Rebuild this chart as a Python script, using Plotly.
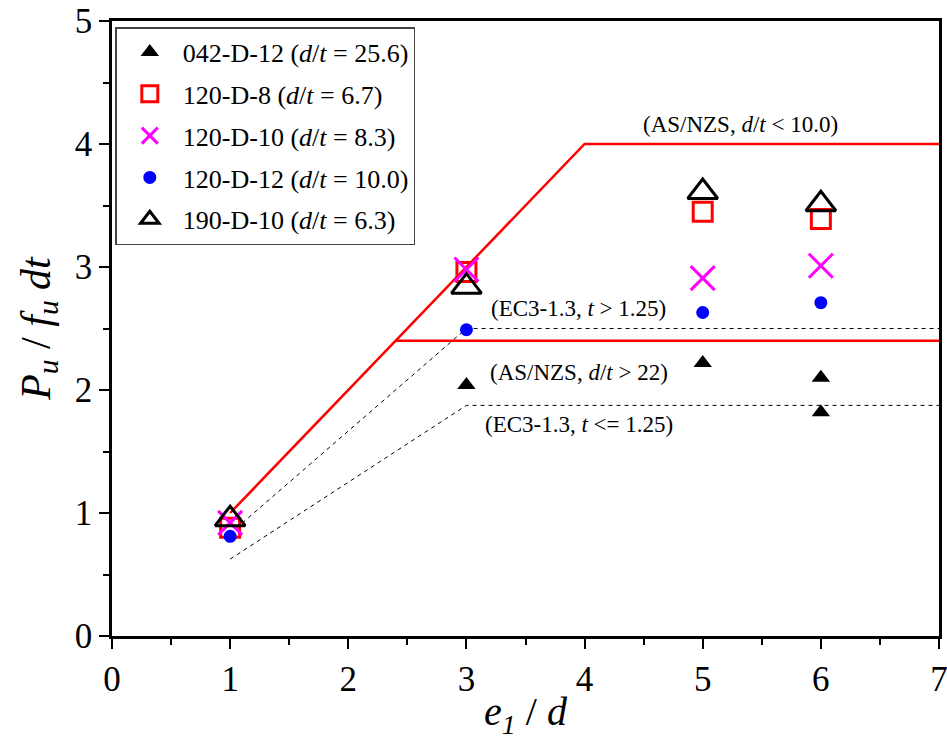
import plotly.graph_objects as go

# Data
x_042 = [3, 5, 6, 6]
y_042 = [2.04, 2.22, 2.10, 1.82]
x_120_8 = [1, 3, 5, 6]
y_120_8 = [0.88, 2.96, 3.45, 3.39]
x_120_10 = [1, 3, 5, 6]
y_120_10 = [0.92, 2.98, 2.91, 3.01]
x_120_12 = [1, 3, 5, 6]
y_120_12 = [0.81, 2.49, 2.63, 2.71]
x_190_10 = [1, 3, 5, 6]
y_190_10 = [0.95, 2.84, 3.61, 3.51]

# design curves
asnzs_lo_x = [1, 4, 7]
asnzs_lo_y = [1.0, 4.0, 4.0]
asnzs_hi_x = [2.4, 7]
asnzs_hi_y = [2.4, 2.4]
ec3_a_x = [1, 3, 7]
ec3_a_y = [0.833, 2.5, 2.5]
ec3_b_x = [1, 3, 7]
ec3_b_y = [0.625, 1.875, 1.875]

FONT = "Liberation Serif"

fig = go.Figure()

fig.add_trace(go.Scatter(x=ec3_a_x, y=ec3_a_y, mode="lines", showlegend=False,
                         line=dict(color="black", width=1, dash="4px,4px")))
fig.add_trace(go.Scatter(x=ec3_b_x, y=ec3_b_y, mode="lines", showlegend=False,
                         line=dict(color="black", width=1, dash="4px,4px")))
fig.add_trace(go.Scatter(x=asnzs_lo_x, y=asnzs_lo_y, mode="lines", showlegend=False,
                         line=dict(color="#ff0000", width=2.5)))
fig.add_trace(go.Scatter(x=asnzs_hi_x, y=asnzs_hi_y, mode="lines", showlegend=False,
                         line=dict(color="#ff0000", width=2.5)))

fig.add_trace(go.Scatter(x=x_042, y=y_042, mode="markers", name="042-D-12 (<i>d</i>/<i>t</i> = 25.6)",
                         legendgroup="a",
                         marker=dict(symbol="triangle-up", size=16, color="black")))
fig.add_trace(go.Scatter(x=x_120_8, y=y_120_8, mode="markers", name="120-D-8 (<i>d</i>/<i>t</i> = 6.7)",
                         legendgroup="b",
                         marker=dict(symbol="square-open", size=19, color="#ff0000",
                                     line=dict(width=3, color="#ff0000"))))
fig.add_trace(go.Scatter(x=x_120_10, y=y_120_10, mode="markers", name="120-D-10 (<i>d</i>/<i>t</i> = 8.3)",
                         legendgroup="c",
                         marker=dict(symbol="x-thin-open", size=24, color="#ff00ff",
                                     line=dict(width=3, color="#ff00ff"))))
fig.add_trace(go.Scatter(x=x_120_12, y=y_120_12, mode="markers", name="120-D-12 (<i>d</i>/<i>t</i> = 10.0)",
                         legendgroup="d",
                         marker=dict(symbol="circle", size=13, color="#0000ff")))
fig.add_trace(go.Scatter(x=x_190_10, y=y_190_10, mode="markers", name="190-D-10 (<i>d</i>/<i>t</i> = 6.3)",
                         legendgroup="e",
                         marker=dict(symbol="triangle-up-open", size=26, color="black",
                                     line=dict(width=3, color="black"))))

ann_font = dict(family=FONT, size=23, color="black")
annots = [
    (5.32, 4.16, "(AS/NZS, <i>d</i>/<i>t</i> &lt; 10.0)"),
    (3.95, 2.66, "(EC3-1.3, <i>t</i> &gt; 1.25)"),
    (3.95, 2.14, "(AS/NZS, <i>d</i>/<i>t</i> &gt; 22)"),
    (3.95, 1.72, "(EC3-1.3, <i>t</i> &lt;= 1.25)"),
]
for ax_, ay_, txt in annots:
    fig.add_annotation(x=ax_, y=ay_, text=txt, showarrow=False, font=ann_font,
                       xanchor="center", yanchor="middle")

axis_common = dict(
    showgrid=False, zeroline=False, showline=True, linecolor="black", linewidth=2.5,
    mirror=True, ticks="outside", ticklen=10, tickwidth=2, tickcolor="black",
    tickfont=dict(family=FONT, size=35, color="black"), automargin=False,
    ticklabeloverflow="allow",
    minor=dict(ticks="outside", ticklen=6, tickwidth=2, tickcolor="black", dtick=0.5),
)

fig.update_xaxes(range=[0, 7], dtick=1, tick0=0,
                 title=dict(text="<i>e<sub>1</sub></i> / <i>d</i>",
                            font=dict(family=FONT, size=40, color="black"), standoff=0),
                 **axis_common)
fig.update_yaxes(range=[0, 5], dtick=1, tick0=0,
                 title=dict(text="<i>P<sub>u</sub></i> / <i>f<sub>u</sub> dt</i>",
                            font=dict(family=FONT, size=42, color="black"), standoff=12),
                 **axis_common)

fig.update_layout(
    width=947, height=741,
    margin=dict(l=112, r=8, t=21, b=105),
    plot_bgcolor="white", paper_bgcolor="white",
    font=dict(family=FONT, color="black"),
    legend=dict(x=0.004, y=0.99, xanchor="left", yanchor="top",
                bgcolor="white", bordercolor="#444", borderwidth=1.5,
                font=dict(family=FONT, size=26, color="black"),
                tracegroupgap=5, itemsizing="trace", itemwidth=56),
)

fig.write_html("out.html")
